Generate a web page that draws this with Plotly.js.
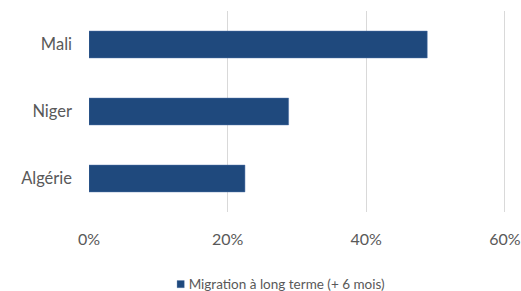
<!DOCTYPE html>
<html><head><meta charset="utf-8">
<script src="https://cdn.plot.ly/plotly-3.0.1.min.js"></script>
<style>html,body{margin:0;padding:0;background:#fff}#chart{width:521px;height:291px}</style>
</head><body><div id="chart"></div>
<script>
var categories = ["Mali", "Niger", "Algérie"];
var values = [0.488, 0.288, 0.225];
var seriesName = "Migration à long terme (+ 6 mois)";
var tickVals = [0, 0.2, 0.4, 0.6];
var tickText = ["0%", "20%", "40%", "60%"];

var trace = {
  type: "bar", orientation: "h",
  y: categories, x: values, name: seriesName,
  marker: {color: "#1f497d", line: {color: "#4a6fa5", width: 0.5}},
  showlegend: true, hoverinfo: "skip"
};
var layout = {
  width: 521, height: 291,
  margin: {l: 89, r: 11.84, t: 11, b: 79, autoexpand: false},
  paper_bgcolor: "#fff", plot_bgcolor: "#fff",
  font: {family: "Lato, 'Open Sans', sans-serif", color: "#595959", size: 16.5},
  bargap: 0.6,
  xaxis: {range: [0, 0.606], tickvals: tickVals, ticktext: tickText, automargin: false,
    showgrid: true, gridcolor: "#d9d9d9", gridwidth: 1.3, zeroline: false,
    showline: false, ticks: "", ticklabelstandoff: 16, ticklabeloverflow: "allow",
    tickfont: {size: 16, color: "#595959"}},
  yaxis: {categoryorder: "array", categoryarray: categories.slice().reverse(), automargin: false,
    autorange: false, range: [-0.5, 2.5], showgrid: false, zeroline: false,
    showline: false, ticks: "", ticklabelstandoff: 16, tickfont: {size: 16.5, color: "#595959"}},
  showlegend: true,
  legend: {orientation: "h", x: 0.429, xanchor: "center", y: -0.36, yanchor: "middle",
    font: {size: 13.5, color: "#595959"}, itemwidth: 30}
};
Plotly.newPlot("chart", [trace], layout, {staticPlot: true, displayModeBar: false}).then(function(gd){
  var pts = gd.querySelectorAll(".legend .legendpoints path");
  pts.forEach(function(p){ p.setAttribute("transform", "translate(32,0) scale(0.6)"); });
});
</script></body></html>
